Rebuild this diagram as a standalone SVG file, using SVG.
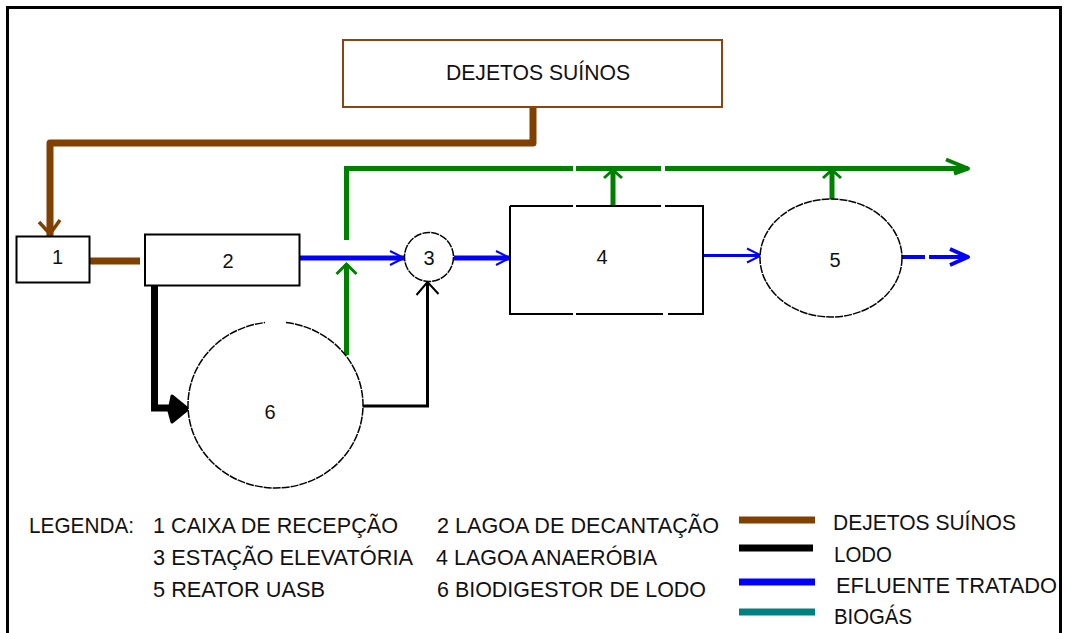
<svg xmlns="http://www.w3.org/2000/svg" width="1065" height="633" viewBox="0 0 1065 633">
<style>
.lbl{font-family:"Liberation Sans",Arial,sans-serif;font-size:22px;fill:#111}
.num{font-family:"Liberation Sans",Arial,sans-serif;font-size:20px;fill:#111;text-anchor:middle}
.box{fill:#fff;stroke:#000;stroke-width:2}
.tank{fill:#fff;stroke:#000;stroke-width:1.5;stroke-dasharray:8 1}
.brown{stroke:#804000;fill:none;stroke-width:7}
.green{stroke:#008000;fill:none;stroke-width:5}
.blue{stroke:#0000ff;fill:none}
.black{stroke:#000;fill:none}
</style>
<defs>
<marker id="aBlue" markerUnits="userSpaceOnUse" markerWidth="20" markerHeight="20" refX="0" refY="0" orient="auto" overflow="visible">
<path d="M-14,-7 L0,0 L-14,7" fill="none" stroke="#0000ff" stroke-width="2"/>
</marker>
<marker id="aBlueBold" markerUnits="userSpaceOnUse" markerWidth="20" markerHeight="20" refX="0" refY="0" orient="auto" overflow="visible">
<path d="M-18,-8 L0,0 L-18,8" fill="none" stroke="#0000ff" stroke-width="4" stroke-linejoin="round"/>
</marker>
<marker id="aGreen" markerUnits="userSpaceOnUse" markerWidth="20" markerHeight="20" refX="0" refY="0" orient="auto" overflow="visible">
<path d="M-22,-9 L0,0 L-14,5" fill="none" stroke="#008000" stroke-width="4" stroke-linejoin="round"/>
</marker>
<marker id="aGreenUp" markerUnits="userSpaceOnUse" markerWidth="20" markerHeight="20" refX="0" refY="0" orient="auto" overflow="visible">
<path d="M-10,-10 L0,0 L-10,10" fill="none" stroke="#008000" stroke-width="3"/>
</marker>
<marker id="aGreenT" markerUnits="userSpaceOnUse" markerWidth="20" markerHeight="20" refX="0" refY="0" orient="auto" overflow="visible">
<path d="M-8,-9 L0,0 L-8,9" fill="none" stroke="#008000" stroke-width="3"/>
</marker>
<marker id="aBrown" markerUnits="userSpaceOnUse" markerWidth="20" markerHeight="20" refX="0" refY="0" orient="auto" overflow="visible">
<path d="M-16,-10 L-2,0 L-14,11" fill="none" stroke="#804000" stroke-width="3.5"/>
</marker>
<marker id="aBlack" markerUnits="userSpaceOnUse" markerWidth="20" markerHeight="20" refX="0" refY="0" orient="auto" overflow="visible">
<path d="M-13,-11 L0,0 L-12,11" fill="none" stroke="#000" stroke-width="2"/>
</marker>
</defs>

<rect x="7.5" y="7.5" width="1053" height="640" fill="#fff" stroke="#000" stroke-width="3"/>

<g id="connectors">
<path class="brown" d="M533,107 V143 H50 V236" stroke-linejoin="round" marker-end="url(#aBrown)"/>
<path class="brown" d="M90,261 H140"/>
<path class="blue" stroke-width="5" d="M300,258 H404" marker-end="url(#aBlue)"/>
<path class="blue" stroke-width="5" d="M454,258 H510" marker-end="url(#aBlue)"/>
<path class="blue" stroke-width="3" d="M703,255.5 H761" marker-end="url(#aBlue)"/>
<path class="blue" stroke-width="4" d="M902,257 H925 M929,257 H968" marker-end="url(#aBlueBold)"/>
<path class="green" d="M346.5,240 V168.5 H573 M576,168.5 H661 M665,168.5 H968" marker-end="url(#aGreen)"/>
<path class="green" d="M613,205 V170" marker-end="url(#aGreenT)"/>
<path class="green" d="M832,199 V170" marker-end="url(#aGreenT)"/>
<path class="green" d="M346.5,355 V264" marker-end="url(#aGreenUp)"/>
<path class="black" stroke-width="7" d="M154.5,286 V408 H172"/>
<path d="M188,409 L172,396 L169,411 L172,422 Z" fill="#000" stroke="#000" stroke-width="3" stroke-linejoin="round"/>
<path class="black" stroke-width="3" d="M363,406 H427.5 V282" marker-end="url(#aBlack)"/>
</g>

<g id="node-dejetos">
<rect x="343" y="40" width="379" height="67" fill="#fff" stroke="#8b4513" stroke-width="2"/>
<text class="lbl" x="538" y="80" text-anchor="middle" textLength="184" lengthAdjust="spacingAndGlyphs">DEJETOS SUÍNOS</text>
</g>
<g id="node-1">
<rect class="box" x="16.5" y="236.5" width="73" height="46"/>
<text class="num" x="57.5" y="264">1</text>
</g>
<g id="node-2">
<rect class="box" x="145" y="234.5" width="154.5" height="51"/>
<text class="num" x="228" y="268">2</text>
</g>
<g id="node-3">
<circle class="tank" cx="429" cy="257" r="24.5"/>
<text class="num" x="429" y="265">3</text>
</g>
<g id="node-4">
<rect x="510" y="206" width="193" height="108" fill="#fff"/>
<path d="M510,206 H573 M576,206 H661 M665,206 H703 V314 H668 M663,314 H576 M573,314 H510 V206" fill="none" stroke="#000" stroke-width="2"/>
<text class="num" x="602" y="264">4</text>
</g>
<g id="node-5">
<ellipse class="tank" cx="831" cy="258" rx="71" ry="59"/>
<text class="num" x="835" y="267">5</text>
</g>
<g id="node-6">
<path class="tank" d="M286,322.6 A87.5,83 0 1 1 265,322.6"/>
<text class="num" x="270" y="419" font-size="18">6</text>
</g>

<g id="legend">
<text class="lbl" x="29" y="533" textLength="105" lengthAdjust="spacingAndGlyphs">LEGENDA:</text>
<text class="lbl" x="153" y="533" textLength="245" lengthAdjust="spacingAndGlyphs">1 CAIXA DE RECEPÇÃO</text>
<text class="lbl" x="153" y="565" textLength="260" lengthAdjust="spacingAndGlyphs">3 ESTAÇÃO ELEVATÓRIA</text>
<text class="lbl" x="153" y="597" textLength="172" lengthAdjust="spacingAndGlyphs">5 REATOR UASB</text>
<text class="lbl" x="437" y="533" textLength="282" lengthAdjust="spacingAndGlyphs">2 LAGOA DE DECANTAÇÃO</text>
<text class="lbl" x="436" y="565" textLength="221" lengthAdjust="spacingAndGlyphs">4 LAGOA ANAERÓBIA</text>
<text class="lbl" x="437" y="597" textLength="269" lengthAdjust="spacingAndGlyphs">6 BIODIGESTOR DE LODO</text>
<line x1="739" y1="520" x2="815" y2="520" stroke="#804000" stroke-width="7"/>
<line x1="739" y1="548" x2="813" y2="548" stroke="#000" stroke-width="7"/>
<line x1="739" y1="582" x2="815" y2="582" stroke="#0000ff" stroke-width="7"/>
<line x1="739" y1="612" x2="815" y2="612" stroke="#008080" stroke-width="7"/>
<text class="lbl" x="833" y="530" textLength="183" lengthAdjust="spacingAndGlyphs">DEJETOS SUÍNOS</text>
<text class="lbl" x="834" y="562" textLength="58" lengthAdjust="spacingAndGlyphs">LODO</text>
<text class="lbl" x="836" y="593" textLength="221" lengthAdjust="spacingAndGlyphs">EFLUENTE TRATADO</text>
<text class="lbl" x="834" y="624" textLength="78" lengthAdjust="spacingAndGlyphs">BIOGÁS</text>
</g>
</svg>
